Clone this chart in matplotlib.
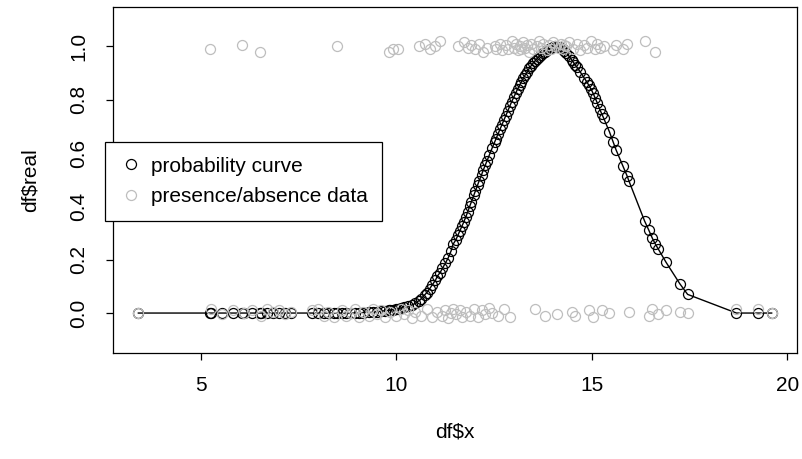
import matplotlib
matplotlib.use("Agg")
import matplotlib.pyplot as plt
from matplotlib.lines import Line2D

plt.rcParams['font.family'] = ['Liberation Sans', 'DejaVu Sans']

# x positions of the sampled sites
x = [3.40, 5.23, 5.26, 5.54, 5.82, 6.05, 6.10, 6.30, 6.50, 6.55,
     6.70, 6.85, 7.00, 7.15, 7.30, 7.85, 8.00, 8.15, 8.25, 8.40,
     8.48, 8.60, 8.70, 8.85, 8.95, 9.05, 9.15, 9.30, 9.40, 9.50,
     9.60, 9.72, 9.80, 9.85, 9.92, 10.00, 10.05, 10.12, 10.20, 10.30,
     10.40, 10.48, 10.58, 10.62, 10.72, 10.78, 10.85, 10.92, 11.00, 11.05,
     11.12, 11.18, 11.25, 11.32, 11.40, 11.45, 11.52, 11.58, 11.62, 11.68,
     11.72, 11.78, 11.82, 11.88, 11.92, 11.98, 12.02, 12.08, 12.12, 12.18,
     12.22, 12.28, 12.32, 12.38, 12.45, 12.52, 12.55, 12.60, 12.65, 12.70,
     12.75, 12.80, 12.85, 12.90, 12.95, 13.00, 13.05, 13.10, 13.15, 13.20,
     13.25, 13.30, 13.35, 13.40, 13.45, 13.50, 13.55, 13.60, 13.65, 13.70,
     13.75, 13.80, 13.85, 13.90, 13.95, 14.00, 14.05, 14.10, 14.15, 14.20,
     14.25, 14.30, 14.35, 14.42, 14.48, 14.52, 14.57, 14.62, 14.70, 14.80,
     14.88, 14.92, 14.98, 15.03, 15.08, 15.14, 15.20, 15.26, 15.30, 15.45,
     15.55, 15.62, 15.80, 15.90, 15.95, 16.35, 16.46, 16.55, 16.62, 16.70,
     16.90, 17.25, 17.45, 18.70, 19.25, 19.60]

# probability of presence at each site (black curve)
real = [0.000, 0.000, 0.000, 0.000, 0.000, 0.000, 0.000, 0.000, 0.000, 0.000,
        0.000, 0.000, 0.000, 0.000, 0.000, 0.000, 0.000, 0.000, 0.000, 0.000,
        0.000, 0.000, 0.000, 0.000, 0.000, 0.001, 0.002, 0.003, 0.004, 0.005,
        0.007, 0.009, 0.010, 0.011, 0.013, 0.015, 0.017, 0.019, 0.022, 0.025,
        0.030, 0.036, 0.047, 0.051, 0.067, 0.077, 0.091, 0.106, 0.123, 0.139,
        0.152, 0.168, 0.186, 0.205, 0.233, 0.258, 0.274, 0.294, 0.308, 0.327,
        0.340, 0.362, 0.378, 0.402, 0.418, 0.442, 0.457, 0.481, 0.497, 0.519,
        0.535, 0.557, 0.572, 0.594, 0.619, 0.643, 0.654, 0.672, 0.689, 0.706,
        0.723, 0.741, 0.758, 0.776, 0.793, 0.809, 0.825, 0.840, 0.854, 0.868,
        0.882, 0.894, 0.906, 0.918, 0.928, 0.938, 0.946, 0.954, 0.962, 0.969,
        0.975, 0.980, 0.985, 0.990, 0.994, 0.997, 1.000, 0.999, 0.998, 0.995,
        0.990, 0.984, 0.976, 0.963, 0.950, 0.942, 0.932, 0.922, 0.905, 0.883,
        0.865, 0.855, 0.840, 0.825, 0.808, 0.788, 0.765, 0.745, 0.732, 0.680,
        0.640, 0.612, 0.550, 0.515, 0.495, 0.345, 0.310, 0.280, 0.260, 0.240,
        0.190, 0.110, 0.070, 0.000, 0.000, 0.000]

# observed presence (1) / absence (0), jittered
obs = [0.000, 0.990, 0.015, -0.005, 0.010, 1.005, 0.000, 0.010, 0.980, -0.010,
       0.015, 0.005, 0.010, -0.005, 0.005, 0.010, 0.015, -0.010, 0.005, -0.015,
       1.000, 0.010, -0.010, 0.000, 0.015, -0.015, 0.005, -0.010, 0.015, -0.005,
       0.010, -0.015, 0.980, 0.005, 0.990, -0.010, 0.990, 0.015, -0.005, 0.010,
       -0.020, 0.005, 1.000, -0.010, 1.010, 0.015, 0.990, -0.015, 1.000, 0.005,
       1.020, -0.010, 0.010, -0.020, 0.000, 0.015, -0.005, 1.000, 0.010, -0.015,
       1.015, 0.005, 0.995, -0.010, 1.005, 0.015, 0.990, -0.015, 1.010, 0.010,
       0.980, -0.005, 0.995, 0.020, 0.000, 1.000, 0.990, -0.010, 1.010, 0.985,
       0.015, 1.005, 0.990, -0.015, 1.020, 0.995, 1.010, 0.985, 1.000, 0.990,
       1.015, 0.995, 1.005, 0.980, 1.010, 0.990, 0.015, 1.000, 1.020, 0.995,
       1.010, -0.010, 0.985, 1.005, 0.990, 1.015, 1.000, -0.005, 0.995, 1.010,
       0.990, 1.005, 1.000, 1.015, 0.005, 0.990, -0.010, 1.010, 0.985, 1.005,
       0.995, 0.010, 1.020, -0.015, 0.990, 1.010, 0.995, 0.010, 1.000, 0.000,
       0.985, 1.005, 0.990, 1.010, 0.005, 1.020, -0.010, 0.015, 0.980, -0.005,
       0.010, 0.005, 0.000, 0.015, 0.015, 0.000]

W, H = 803, 459
fs = 15
fig = plt.figure(figsize=(W / 100, H / 100), dpi=100)
ax = fig.add_axes([113 / W, 1 - 352.5 / H, (797 - 113) / W, (352.5 - 7) / H])

ms = 7.2
ax.plot(x, real, color='black', lw=1, marker='o', ms=ms, mfc='none', mec='black', mew=0.9)
ax.plot(x, obs, ls='none', marker='o', ms=ms, mfc='none', mec='#BEBEBE', mew=0.9)

ax.set_xlim(2.752, 20.248)
ax.set_ylim(-0.148, 1.148)
ax.set_xticks([5, 10, 15, 20])
ax.set_yticks([0.0, 0.2, 0.4, 0.6, 0.8, 1.0])
ax.set_yticklabels(['0.0', '0.2', '0.4', '0.6', '0.8', '1.0'], rotation=90, va='center')
ax.tick_params(direction='out', length=5, width=0.9, labelsize=fs)
ax.tick_params(axis='x', pad=12)
ax.tick_params(axis='y', pad=13)
for s in ax.spines.values():
    s.set_linewidth(0.9)

fig.text(455 / W, 1 - 432 / H, 'df$x', ha='center', va='center', fontsize=fs)
fig.text(30 / W, 1 - 180 / H, 'df$real', ha='center', va='center', rotation=90, fontsize=fs)

handles = [Line2D([], [], ls='none', marker='o', ms=ms, mfc='none', mec='black', mew=0.9),
           Line2D([], [], ls='none', marker='o', ms=ms, mfc='none', mec='#BEBEBE', mew=0.9)]
leg = fig.legend(handles, ['probability curve', 'presence/absence data'],
                 loc='upper left', bbox_to_anchor=(105 / W, 1 - 142 / H),
                 fontsize=fs, frameon=True, fancybox=False, edgecolor='black',
                 framealpha=1, borderpad=0.7, handlelength=1.1, handletextpad=0.4,
                 labelspacing=0.55, borderaxespad=0)
leg.get_frame().set_linewidth(0.9)

fig.savefig('out.png', dpi=100)
